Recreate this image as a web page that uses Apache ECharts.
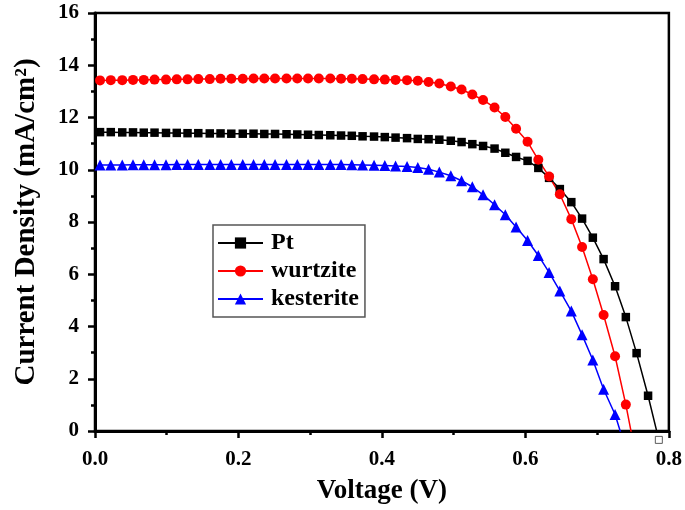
<!DOCTYPE html>
<html>
<head>
<meta charset="utf-8">
<script src="https://cdn.jsdelivr.net/npm/echarts@6/dist/echarts.min.js"></script>
<style>
html,body{margin:0;padding:0;background:#fff;}
#chart{width:685px;height:510px;}
</style>
</head>
<body>
<div id="chart"></div>
<script>
// Voltage values (V) at which each point was sampled
const voltage = [0.007,0.022,0.038,0.053,0.068,0.083,0.099,0.114,0.129,0.144,
  0.160,0.175,0.190,0.206,0.221,0.236,0.251,0.267,0.282,0.297,
  0.312,0.328,0.343,0.358,0.373,0.389,0.404,0.419,0.435,0.450,
  0.465,0.480,0.496,0.511,0.526,0.541,0.557,0.572,0.587,0.603,
  0.618,0.633,0.648,0.664,0.679,0.694,0.709,0.725,0.740,0.755,
  0.771,0.786];

// Current density (mA/cm2)
const ptJ = [11.44,11.44,11.43,11.43,11.42,11.42,11.41,11.41,11.40,11.40,
  11.39,11.39,11.38,11.38,11.38,11.37,11.37,11.36,11.35,11.34,
  11.33,11.32,11.31,11.30,11.28,11.27,11.25,11.23,11.21,11.18,
  11.17,11.15,11.11,11.06,10.98,10.91,10.81,10.65,10.49,10.34,
  10.07,9.69,9.26,8.76,8.13,7.40,6.58,5.54,4.36,2.98,
  1.35,-0.34];

const wurtziteJ = [13.42,13.43,13.43,13.44,13.44,13.45,13.45,13.46,13.46,13.47,
  13.47,13.48,13.48,13.48,13.49,13.49,13.49,13.49,13.49,13.49,
  13.49,13.49,13.48,13.48,13.47,13.46,13.45,13.44,13.43,13.41,
  13.36,13.30,13.19,13.07,12.88,12.67,12.38,12.02,11.57,11.07,
  10.38,9.74,9.06,8.11,7.04,5.81,4.44,2.86,1.01,-1.10];

const kesteriteJ = [10.18,10.18,10.18,10.19,10.19,10.19,10.19,10.20,10.20,10.20,
  10.20,10.20,10.20,10.20,10.20,10.20,10.20,10.20,10.20,10.20,
  10.20,10.20,10.20,10.19,10.18,10.17,10.16,10.14,10.12,10.09,
  10.02,9.91,9.77,9.58,9.35,9.04,8.66,8.28,7.81,7.29,
  6.72,6.07,5.36,4.59,3.68,2.72,1.60,0.63,-0.70];

// Last Pt point lying below the axis (drawn hollow)
const ptOutIndex = 51;

const xTicks = ['0.0','0.2','0.4','0.6','0.8'];
const yTicks = ['0','2','4','6','8','10','12','14','16'];

function pairs(js){ return js.map((j,i)=>[voltage[i], j]); }

const FONT = '"Liberation Serif","Times New Roman",serif';

const chart = echarts.init(document.getElementById('chart'), null, {renderer:'canvas'});
chart.setOption({
  animation:false,
  backgroundColor:'#fff',
  grid:{left:95, right:15, top:13, bottom:75, show:true, borderColor:'#000', borderWidth:2.5, backgroundColor:'transparent'},
  xAxis:{
    type:'value', min:0, max:0.8, interval:0.2,
    name:'Voltage (V)', nameLocation:'middle', nameGap:47,
    nameTextStyle:{fontFamily:FONT, fontWeight:'bold', fontSize:27, color:'#000'},
    axisLine:{show:true, lineStyle:{color:'#000', width:3}},
    axisTick:{show:true, inside:false, length:7, lineStyle:{color:'#000', width:2.5}},
    minorTick:{show:true, splitNumber:2, length:4, lineStyle:{color:'#000', width:2.5}},
    splitLine:{show:false},
    axisLabel:{fontFamily:FONT, fontWeight:'bold', fontSize:21, color:'#000', margin:18,
      formatter:(v)=>{ const s=v.toFixed(1); return xTicks.includes(s)?s:''; }}
  },
  yAxis:{
    type:'value', min:0, max:16, interval:2,
    name:'Current Density (mA/cm²)', nameLocation:'middle', nameGap:54, nameRotate:90,
    nameTextStyle:{fontFamily:FONT, fontWeight:'bold', fontSize:29, color:'#000'},
    axisLine:{show:true, lineStyle:{color:'#000', width:3}},
    axisTick:{show:true, inside:false, length:7, lineStyle:{color:'#000', width:2.5}},
    minorTick:{show:true, splitNumber:2, length:4, lineStyle:{color:'#000', width:2.5}},
    splitLine:{show:false},
    axisLabel:{fontFamily:FONT, fontWeight:'bold', fontSize:21, color:'#000', margin:16,
      formatter:(v)=>{ const s=String(Math.round(v)); return yTicks.includes(s)?s:''; }}
  },
  legend:{
    orient:'vertical', left:213, top:225,
    data:['Pt','wurtzite','kesterite'],
    itemWidth:45, itemHeight:14, itemGap:4,
    padding:[6,6,6,4],
    borderColor:'#555', borderWidth:1.5,
    textStyle:{fontFamily:FONT, fontWeight:'bold', fontSize:24, color:'#000', padding:[0,0,0,3]}
  },
  series:[
    {name:'Pt', type:'line', data:pairs(ptJ), symbol:'rect', symbolSize:8.5,
      lineStyle:{color:'#000', width:1.5}, itemStyle:{color:'#000'}, clip:true},
    {name:'wurtzite', type:'line', data:pairs(wurtziteJ), symbol:'circle', symbolSize:10,
      lineStyle:{color:'#ff0000', width:1.5}, itemStyle:{color:'#ff0000'}, clip:true},
    {name:'kesterite', type:'line', data:pairs(kesteriteJ), symbol:'triangle', symbolSize:11,
      lineStyle:{color:'#0000ff', width:1.5}, itemStyle:{color:'#0000ff'}, clip:true},
    {name:'Pt-out', type:'scatter', data:[[voltage[ptOutIndex], ptJ[ptOutIndex]]], symbol:'rect', symbolSize:7,
      itemStyle:{color:'#fff', borderColor:'#333', borderWidth:1}, clip:false, silent:true}
  ]
});
</script>
</body>
</html>
